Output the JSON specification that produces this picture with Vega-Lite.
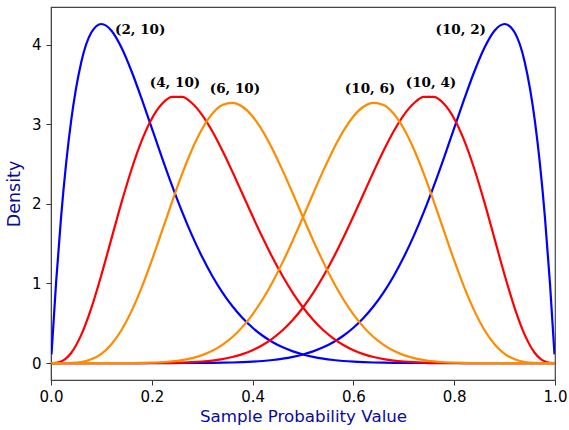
{
  "$schema": "https://vega.github.io/schema/vega-lite/v6.json",
  "autosize": "none",
  "width": 504,
  "height": 373,
  "padding": {"left": 51, "top": 7, "right": 14, "bottom": 50},
  "background": "white",
  "config": {
    "view": {"stroke": "#444", "strokeWidth": 1.2},
    "axis": {
      "grid": false,
      "labelFont": "DejaVu Sans",
      "labelFontSize": 15,
      "labelColor": "black",
      "labelFlush": false,
      "tickColor": "#333",
      "tickSize": 5,
      "domainColor": "#444",
      "titleFont": "DejaVu Sans",
      "titleFontSize": 16.7,
      "titleFontWeight": "normal",
      "titleColor": "#0a0a9a"
    }
  },
  "datasets": {
    "curves": [
      {"x":0.001,"a":0.109,"b":0,"c":0,"d":0,"e":0,"g":0},
      {"x":0.01,"a":1.0049,"b":0.0026,"c":0,"d":0,"e":0,"g":0},
      {"x":0.02,"a":1.8343,"b":0.0191,"c":0.0001,"d":0,"e":0,"g":0},
      {"x":0.03,"a":2.5088,"b":0.0587,"c":0.0006,"d":0,"e":0,"g":0},
      {"x":0.04,"a":3.0472,"b":0.1268,"c":0.0021,"d":0,"e":0,"g":0},
      {"x":0.06,"a":3.7818,"b":0.354,"c":0.0134,"d":0,"e":0,"g":0},
      {"x":0.08,"a":4.155,"b":0.6914,"c":0.0465,"d":0,"e":0,"g":0},
      {"x":0.1,"a":4.2616,"b":1.108,"c":0.1163,"d":0,"e":0,"g":0},
      {"x":0.12,"a":4.1775,"b":1.5641,"c":0.2365,"d":0.0001,"e":0,"g":0},
      {"x":0.14,"a":3.9629,"b":2.0195,"c":0.4156,"d":0.0003,"e":0,"g":0},
      {"x":0.16,"a":3.6645,"b":2.4391,"c":0.6556,"d":0.0009,"e":0.0001,"g":0},
      {"x":0.18,"a":3.3189,"b":2.7958,"c":0.9511,"d":0.0022,"e":0.0003,"g":0},
      {"x":0.2,"a":2.9528,"b":3.0709,"c":1.2898,"d":0.005,"e":0.0008,"g":0},
      {"x":0.22,"a":2.5863,"b":3.2545,"c":1.654,"d":0.0104,"e":0.0016,"g":0.0001},
      {"x":0.24,"a":2.2331,"b":3.3444,"c":2.0227,"d":0.0201,"e":0.0033,"g":0.0002},
      {"x":0.26,"a":1.903,"b":3.3448,"c":2.3741,"d":0.0362,"e":0.0063,"g":0.0004},
      {"x":0.28,"a":1.6016,"b":3.2646,"c":2.6875,"d":0.0615,"e":0.0113,"g":0.0008},
      {"x":0.3,"a":1.3317,"b":3.1161,"c":2.9448,"d":0.0993,"e":0.0193,"g":0.0015},
      {"x":0.32,"a":1.0943,"b":2.9134,"c":3.1325,"d":0.1536,"e":0.0316,"g":0.0026},
      {"x":0.34,"a":0.8887,"b":2.6712,"c":3.2423,"d":0.2283,"e":0.0499,"g":0.0044},
      {"x":0.36,"a":0.7134,"b":2.4037,"c":3.271,"d":0.3275,"e":0.0761,"g":0.0072},
      {"x":0.38,"a":0.5658,"b":2.1244,"c":3.221,"d":0.4545,"e":0.1126,"g":0.0113},
      {"x":0.4,"a":0.4434,"b":1.8447,"c":3.0991,"d":0.6121,"e":0.1619,"g":0.0173},
      {"x":0.42,"a":0.3432,"b":1.5739,"c":2.9152,"d":0.8016,"e":0.2269,"g":0.0259},
      {"x":0.44,"a":0.2621,"b":1.3195,"c":2.6823,"d":1.0223,"e":0.3105,"g":0.0381},
      {"x":0.46,"a":0.1976,"b":1.0869,"c":2.4149,"d":1.2716,"e":0.4153,"g":0.0548},
      {"x":0.48,"a":0.1468,"b":0.8793,"c":2.1271,"d":1.5444,"e":0.5439,"g":0.0774},
      {"x":0.5,"a":0.1074,"b":0.6982,"c":1.8329,"d":1.8329,"e":0.6982,"g":0.1074},
      {"x":0.52,"a":0.0774,"b":0.5439,"c":1.5444,"d":2.1271,"e":0.8793,"g":0.1468},
      {"x":0.54,"a":0.0548,"b":0.4153,"c":1.2716,"d":2.4149,"e":1.0869,"g":0.1976},
      {"x":0.56,"a":0.0381,"b":0.3105,"c":1.0223,"d":2.6823,"e":1.3195,"g":0.2621},
      {"x":0.58,"a":0.0259,"b":0.2269,"c":0.8016,"d":2.9152,"e":1.5739,"g":0.3432},
      {"x":0.6,"a":0.0173,"b":0.1619,"c":0.6121,"d":3.0991,"e":1.8447,"g":0.4434},
      {"x":0.62,"a":0.0113,"b":0.1126,"c":0.4545,"d":3.221,"e":2.1244,"g":0.5658},
      {"x":0.64,"a":0.0072,"b":0.0761,"c":0.3275,"d":3.271,"e":2.4037,"g":0.7134},
      {"x":0.66,"a":0.0044,"b":0.0499,"c":0.2283,"d":3.2423,"e":2.6712,"g":0.8887},
      {"x":0.68,"a":0.0026,"b":0.0316,"c":0.1536,"d":3.1325,"e":2.9134,"g":1.0943},
      {"x":0.7,"a":0.0015,"b":0.0193,"c":0.0993,"d":2.9448,"e":3.1161,"g":1.3317},
      {"x":0.72,"a":0.0008,"b":0.0113,"c":0.0615,"d":2.6875,"e":3.2646,"g":1.6016},
      {"x":0.74,"a":0.0004,"b":0.0063,"c":0.0362,"d":2.3741,"e":3.3448,"g":1.903},
      {"x":0.76,"a":0.0002,"b":0.0033,"c":0.0201,"d":2.0227,"e":3.3444,"g":2.2331},
      {"x":0.78,"a":0.0001,"b":0.0016,"c":0.0104,"d":1.654,"e":3.2545,"g":2.5863},
      {"x":0.8,"a":0,"b":0.0008,"c":0.005,"d":1.2898,"e":3.0709,"g":2.9528},
      {"x":0.82,"a":0,"b":0.0003,"c":0.0022,"d":0.9511,"e":2.7958,"g":3.3189},
      {"x":0.84,"a":0,"b":0.0001,"c":0.0009,"d":0.6556,"e":2.4391,"g":3.6645},
      {"x":0.86,"a":0,"b":0,"c":0.0003,"d":0.4156,"e":2.0195,"g":3.9629},
      {"x":0.88,"a":0,"b":0,"c":0.0001,"d":0.2365,"e":1.5641,"g":4.1775},
      {"x":0.9,"a":0,"b":0,"c":0,"d":0.1163,"e":1.108,"g":4.2616},
      {"x":0.92,"a":0,"b":0,"c":0,"d":0.0465,"e":0.6914,"g":4.155},
      {"x":0.94,"a":0,"b":0,"c":0,"d":0.0134,"e":0.354,"g":3.7818},
      {"x":0.96,"a":0,"b":0,"c":0,"d":0.0021,"e":0.1268,"g":3.0472},
      {"x":0.97,"a":0,"b":0,"c":0,"d":0.0006,"e":0.0587,"g":2.5088},
      {"x":0.98,"a":0,"b":0,"c":0,"d":0.0001,"e":0.0191,"g":1.8343},
      {"x":0.99,"a":0,"b":0,"c":0,"d":0,"e":0.0026,"g":1.0049},
      {"x":0.999,"a":0,"b":0,"c":0,"d":0,"e":0,"g":0.109}
    ],
    "labels": [
      {"lx":0.177,"ly":4.18,"t":"(2, 10)"},
      {"lx":0.246,"ly":3.52,"t":"(4, 10)"},
      {"lx":0.365,"ly":3.44,"t":"(6, 10)"},
      {"lx":0.633,"ly":3.44,"t":"(10, 6)"},
      {"lx":0.754,"ly":3.52,"t":"(10, 4)"},
      {"lx":0.813,"ly":4.18,"t":"(10, 2)"}
    ]
  },
  "layer": [
    {
      "data": {"name": "curves"},
      "transform": [{"fold": ["a","g","b","e","c","d"], "as": ["series","density"]}],
      "mark": {"type": "line", "strokeWidth": 2.2, "interpolate": "monotone", "clip": true},
      "encoding": {
        "x": {"field": "x", "type": "quantitative",
              "scale": {"domain": [0, 1], "nice": false, "zero": false},
              "axis": {"title": "Sample Probability Value", "values": [0, 0.2, 0.4, 0.6, 0.8, 1.0], "format": ".1f", "labelPadding": 4, "titlePadding": 4}},
        "y": {"field": "density", "type": "quantitative",
              "scale": {"domain": [-0.213, 4.475], "nice": false, "zero": false},
              "axis": {"title": "Density", "titleFontSize": 17.5, "values": [0, 1, 2, 3, 4], "format": "d", "labelPadding": 5, "titlePadding": 8}},
        "color": {"field": "series", "type": "nominal", "legend": null,
                  "scale": {"domain": ["a","g","b","e","c","d"],
                            "range": ["#0000ff","#0000ff","#ff0000","#ff0000","#ff8c00","#ff8c00"]}}
      }
    },
    {
      "mark": {"type": "rule", "color": "#aaaaaa", "strokeWidth": 2, "strokeDash": [12, 8]},
      "encoding": {"x": {"datum": 0.5, "type": "quantitative"}}
    },
    {
      "data": {"name": "labels"},
      "mark": {"type": "text", "font": "DejaVu Serif", "fontWeight": "bold", "fontSize": 13.5, "color": "black", "align": "center", "baseline": "middle"},
      "encoding": {
        "x": {"field": "lx", "type": "quantitative"},
        "y": {"field": "ly", "type": "quantitative"},
        "text": {"field": "t"}
      }
    }
  ]
}
